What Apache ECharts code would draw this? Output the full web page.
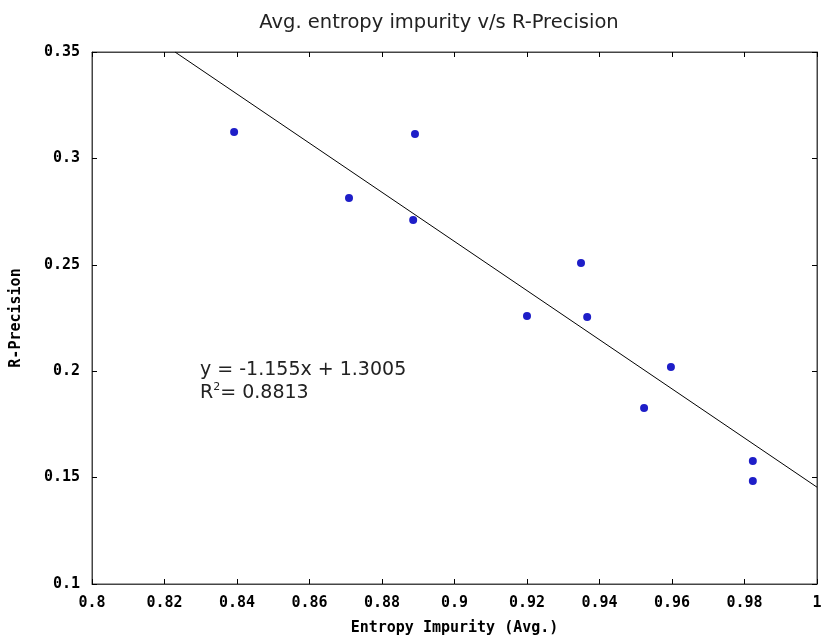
<!DOCTYPE html>
<html>
<head>
<meta charset="utf-8">
<script src="https://cdn.jsdelivr.net/npm/echarts@6/dist/echarts.min.js"></script>
<style>html,body{margin:0;padding:0;background:#fff}#c{width:824px;height:635px}</style>
</head>
<body>
<div id="c"></div>
<script>
var entropy = [0.8392, 0.8709, 0.8891, 0.8886, 0.9200, 0.9349, 0.9366, 0.9523, 0.9597, 0.9823, 0.9823];
var rPrecision = [0.3124, 0.2814, 0.3115, 0.2711, 0.2259, 0.2508, 0.2255, 0.1827, 0.2020, 0.1578, 0.1484];
var trendX = [0.8229, 1.0];
var trendY = [0.35, 0.1455];
var equationLines = ['y = -1.155x + 1.3005', 'R{sup|2}= 0.8813'];

var pts = entropy.map(function (x, i) { return [x, rPrecision[i]]; });
var trend = trendX.map(function (x, i) { return [x, trendY[i]]; });

var tickFont = { fontFamily: 'DejaVu Sans Mono', fontWeight: 'bold', fontSize: 15, color: '#000' };
var chart = echarts.init(document.getElementById('c'));
chart.setOption({
  animation: false,
  title: {
    text: 'Avg. entropy impurity v/s R-Precision',
    left: 434, top: 8, textAlign: 'center',
    textStyle: { fontFamily: 'DejaVu Sans', fontWeight: 'normal', fontSize: 19.5, color: '#222' }
  },
  grid: { left: 92, right: 7, top: 52, bottom: 51, outerBoundsMode: 'none', containLabel: false,
    show: true, borderColor: '#444', borderWidth: 1, backgroundColor: 'transparent' },
  xAxis: [{
    type: 'value', min: 0.8, max: 1.0, interval: 0.02, position: 'bottom',
    name: 'Entropy Impurity (Avg.)', nameLocation: 'middle', nameGap: 37,
    nameTextStyle: tickFont,
    axisLine: { lineStyle: { color: '#444' } },
    axisTick: { inside: true, length: 5, lineStyle: { color: '#000' } },
    axisLabel: Object.assign({ margin: 12 }, tickFont),
    splitLine: { show: false }
  }, {
    type: 'value', min: 0.8, max: 1.0, interval: 0.02, position: 'top',
    axisLine: { lineStyle: { color: '#444' } },
    axisTick: { inside: true, length: 5, lineStyle: { color: '#000' } },
    axisLabel: { show: false }, splitLine: { show: false }
  }],
  yAxis: [{
    type: 'value', min: 0.1, max: 0.35, interval: 0.05, position: 'left',
    name: 'R-Precision', nameLocation: 'middle', nameGap: 68,
    nameTextStyle: tickFont,
    axisLine: { show: true, lineStyle: { color: '#444' } },
    axisTick: { show: true, inside: true, length: 5, lineStyle: { color: '#000' } },
    axisLabel: Object.assign({ margin: 12 }, tickFont),
    splitLine: { show: false }
  }, {
    type: 'value', min: 0.1, max: 0.35, interval: 0.05, position: 'right',
    axisLine: { show: true, lineStyle: { color: '#444' } },
    axisTick: { show: true, inside: true, length: 5, lineStyle: { color: '#000' } },
    axisLabel: { show: false }, splitLine: { show: false }
  }],
  series: [{
    type: 'line', data: trend, symbol: 'none', clip: true,
    lineStyle: { color: '#000', width: 1 }, z: 1
  }, {
    type: 'scatter', data: pts, symbol: 'circle', symbolSize: 8,
    itemStyle: { color: '#1e1ec8', opacity: 1 }, z: 2
  }],
  graphic: [{
    type: 'text', left: 200, top: 359,
    style: {
      text: equationLines.join('\n'),
      font: '19px "DejaVu Sans"', fill: '#222', lineHeight: 23,
      rich: { sup: { fontSize: 11, verticalAlign: 'top', padding: [0, 0, 9, 0], fontFamily: 'DejaVu Sans', fill: '#222' } }
    }
  }]
});
</script>
</body>
</html>
